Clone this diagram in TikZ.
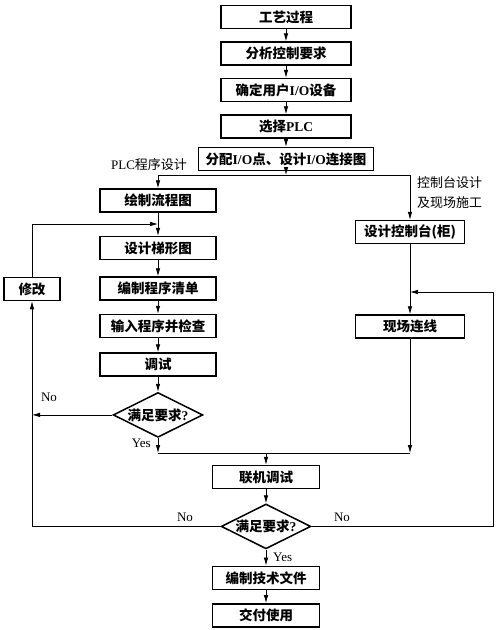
\documentclass[tikz,border=0pt]{standalone}
\usepackage{fontspec}
\setmainfont{Liberation Serif}
\newfontfamily\cjk{Noto Sans CJK SC}
\usetikzlibrary{positioning,arrows.meta,shapes.geometric}

\begin{document}
\begin{tikzpicture}[
		x=1pt, y=-1pt,
		node distance=12pt,
		box/.style={
			draw,
			line width=1.5pt,
			minimum height=23pt,
			inner sep=2pt,
			font=\fontsize{13.5}{15}\selectfont\cjk\bfseries
		},
		decision/.style={
			draw,
			diamond,
			aspect=2,
			inner sep=0.5pt,
			line width=1.5pt,
			font=\fontsize{13.5}{15}\selectfont\cjk\bfseries
		},
		note/.style={
			inner sep=0pt,
			font=\fontsize{13}{20}\selectfont
		},
		line/.style={line width=0.8pt},
		arrow/.style={line width=0.8pt,-{Latex[length=8pt,width=4.6pt]}}
		]
		
		\useasboundingbox (0,0) rectangle (500,630);
		
		% main column
		\node[box,minimum width=130pt]
		(gy) at (286,17)
		{工艺过程};
		
		\node[box,minimum width=130pt,below=of gy]
		(fx)
		{分析控制要求};
		
		\node[box,minimum width=130pt,below=of fx]
		(qd)
		{确定用户\textrm{I/O}设备};
		
		\node[box,minimum width=130pt,below=of qd]
		(xz)
		{选择\textrm{PLC}};
		
		\node[box,minimum width=175pt,below=8pt of xz]
		(fp)
		{分配\textrm{I/O}点、设计\textrm{I/O}连接图};
		
		% PLC program design
		\node[box,minimum width=116pt]
		(lc) at (158,200.5)
		{绘制流程图};
		
		\node[box,minimum width=116pt,below=23pt of lc]
		(tx)
		{设计梯形图};
		
		\node[box,minimum width=116pt,below=16pt of tx]
		(qdan)
		{编制程序清单};
		
		\node[box,minimum width=116pt,below=13pt of qdan]
		(sr)
		{输入程序并检查};
		
		\node[box,minimum width=116pt,below=14pt of sr]
		(ts)
		{调试};
		
		\node[decision,below=15pt of ts]
		(pd1)
		{满足要求\textrm{?}};
		
		\node[box,minimum width=56pt]
		(xg) at (32,289)
		{修改};
		
		% control desk
		\node[box,minimum width=109pt]
		(kz) at (410,232)
		{设计控制台(柜)};
		
		\node[box,minimum width=109pt]
		(xc) at (410,326.5)
		{现场连线};
		
		% joint test
		\node[box,minimum width=107pt]
		(lj) at (266,477)
		{联机调试};
		
		\node[decision,below=14pt of lj]
		(pd2)
		{满足要求\textrm{?}};
		
		\node[box,minimum width=107pt,below=16pt of pd2]
		(bz)
		{编制技术文件};
		
		\node[box,minimum width=107pt,below=13pt of bz]
		(jf)
		{交付使用};
		
		% labels
		\node[note] (plcl) at (149,165) {PLC{\cjk 程序设计}};
		\node[note,align=left,anchor=west,font=\fontsize{13}{20}\selectfont\cjk]
		(kzl) at (417,193) {控制台设计\\及现场施工};
		\node[note] (no1) at (49,397) {No};
		\node[note,anchor=east] (yes1) at (151,443) {Yes};
		\node[note] (no2) at (185,517) {No};
		\node[note] (no3) at (342,517) {No};
		\node[note,anchor=west] (yes2) at (273,557) {Yes};
		
		\coordinate (tl) at (158,175);
		\coordinate (tr) at (410,175);
		\coordinate (fb) at (158,224);
		\coordinate (bl) at (158,453);
		\coordinate (br) at (410,453);
		\coordinate (rr) at (493,292);
		
		\draw[arrow] (gy) -- (fx);
		\draw[arrow] (fx) -- (qd);
		\draw[arrow] (qd) -- (xz);
		\draw[arrow] (xz) -- (fp);
		\draw[arrow] (fp) -- (fp.south |- tl);
		\draw[line] (tl) -- (tr);
		\draw[arrow] (tl) -- (lc);
		\draw[arrow] (tr) -- (kz);
		
		\draw[arrow] (lc) -- (tx);
		\draw[arrow] (xg.north) |- (fb);
		\draw[arrow] (tx) -- (qdan);
		\draw[arrow] (qdan) -- (sr);
		\draw[arrow] (sr) -- (ts);
		\draw[arrow] (ts) -- (pd1);
		\draw[arrow] (pd1.west) -- (pd1.west -| xg);
		\draw[arrow] (pd1) -- (bl);
		
		\draw[arrow] (kz) -- (xc);
		\draw[arrow] (xc) -- (br);
		\draw[line] (bl) -- (br);
		
		\draw[arrow] (lj.north |- bl) -- (lj);
		\draw[arrow] (lj) -- (pd2);
		\draw[arrow] (pd2.west) -| (xg.south);
		\draw[arrow] (pd2.east) -| (rr) -- (rr -| xc);
		\draw[arrow] (pd2) -- (bz);
		\draw[arrow] (bz) -- (jf);
		
	\end{tikzpicture}
\end{document}
